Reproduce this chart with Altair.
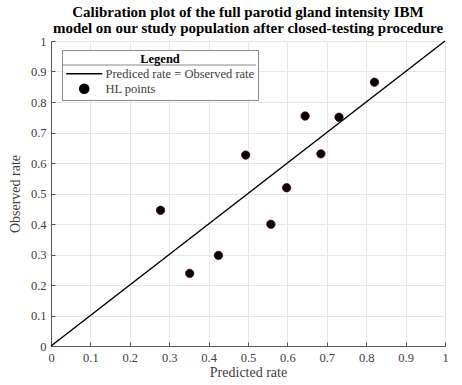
import altair as alt
import pandas as pd

predicted = [0.278, 0.352, 0.425, 0.494, 0.558, 0.598, 0.645, 0.685, 0.731, 0.821]
observed = [0.445, 0.238, 0.297, 0.626, 0.399, 0.519, 0.754, 0.630, 0.750, 0.865]
ref_x = [0.0, 1.0]
ref_y = [0.0, 1.0]
tick_values = [0, 0.1, 0.2, 0.3, 0.4, 0.5, 0.6, 0.7, 0.8, 0.9, 1]
line_label = "Prediced rate = Observed rate"
point_label = "HL points"
title_lines = ["Calibration plot of the full parotid gland intensity IBM",
               "model on our study population after closed-testing procedure"]

FONT = "Liberation Serif"
TXT = "#404040"
W, H = 394, 305

pts = pd.DataFrame({"x": predicted, "y": observed, "series": point_label})
ref = pd.DataFrame({"x": ref_x, "y": ref_y})

xs = alt.Scale(domain=[0, 1], nice=False, zero=False)
ys = alt.Scale(domain=[0, 1], nice=False, zero=False)

main_x = alt.Axis(values=tick_values, format="~g", title="Predicted rate", grid=True,
                  gridColor="#e6e6e6", ticks=False, domainColor="#555555", labelColor=TXT,
                  labelFont=FONT, labelFontSize=12.5, labelPadding=5, titleFont=FONT,
                  titleFontSize=14, titleFontWeight="normal", titleColor=TXT, titlePadding=2,
                  labelFlush=False)
main_y = alt.Axis(values=tick_values, format="~g", title="Observed rate", grid=True,
                  gridColor="#e6e6e6", ticks=False, domainColor="#555555", labelColor=TXT,
                  labelFont=FONT, labelFontSize=12.5, labelPadding=5, titleFont=FONT,
                  titleFontSize=14, titleFontWeight="normal", titleColor=TXT, titlePadding=8,
                  labelFlush=False)
tick_x = alt.Axis(values=tick_values, orient="top", offset=-H, labels=False, domain=False,
                  grid=False, ticks=True, tickSize=4, tickColor="#555555", title="")
tick_y = alt.Axis(values=tick_values, orient="right", offset=-W, labels=False, domain=False,
                  grid=False, ticks=True, tickSize=4, tickColor="#555555", title="")

legend = alt.Legend(title="Legend", orient="none", legendX=11, legendY=9,
                    titleAnchor="middle", titleFont=FONT, titleFontSize=12.5,
                    titleFontWeight="bold", titleColor="black", titlePadding=2,
                    labelFont=FONT, labelFontSize=12.5, labelColor=TXT,
                    padding=3, strokeColor="#8a8a8a",
                    symbolSize=81, symbolStrokeColor="black", symbolStrokeWidth=1.6,
                    symbolFillColor="black", symbolOffset=13, labelOffset=15,
                    rowPadding=0)

dom = [line_label, point_label]

# legend background (white) and separator under its title, drawn beneath the legend
frame_df = pd.DataFrame({"k": [0]})
box = alt.Chart(frame_df).mark_rect(fill="white", x=11, x2=207, y=9, y2=58).encode(
    opacity=alt.value(1)
)
sep = alt.Chart(frame_df).mark_rule(color="#8a8a8a", strokeWidth=1).encode(
    x=alt.value(11), x2=alt.value(205), y=alt.value(24)
)

line = alt.Chart(ref).mark_line(color="black", strokeWidth=1.5).encode(
    x=alt.X("x:Q", scale=xs, axis=tick_x),
    y=alt.Y("y:Q", scale=ys, axis=tick_y),
)

points = alt.Chart(pts).mark_point(filled=True, size=70, stroke="#5a0010",
                                   strokeWidth=0.8, opacity=1).encode(
    x=alt.X("x:Q", scale=xs, axis=main_x),
    y=alt.Y("y:Q", scale=ys, axis=main_y),
    color=alt.Color("series:N", scale=alt.Scale(domain=dom, range=["black", "black"]),
                    legend=legend),
    shape=alt.Shape("series:N", scale=alt.Scale(domain=dom, range=["M-4,0H4", "circle"]),
                    legend=legend),
)

chart = alt.layer(line, points, box, sep).resolve_axis(x="independent", y="independent").properties(
    width=W, height=H,
    autosize=alt.AutoSizeParams(type="none"),
    padding={"left": 51, "top": 41, "right": 17, "bottom": 39},
    title=alt.TitleParams(text=title_lines, font=FONT, fontSize=15, fontWeight="bold",
                          color="black", anchor="middle", lineHeight=16, offset=4, dy=5,
                          frame="group"),
).configure_view(stroke=None).configure(background="white")

chart.save("out.html", embed_options={"renderer": "svg", "actions": False})
